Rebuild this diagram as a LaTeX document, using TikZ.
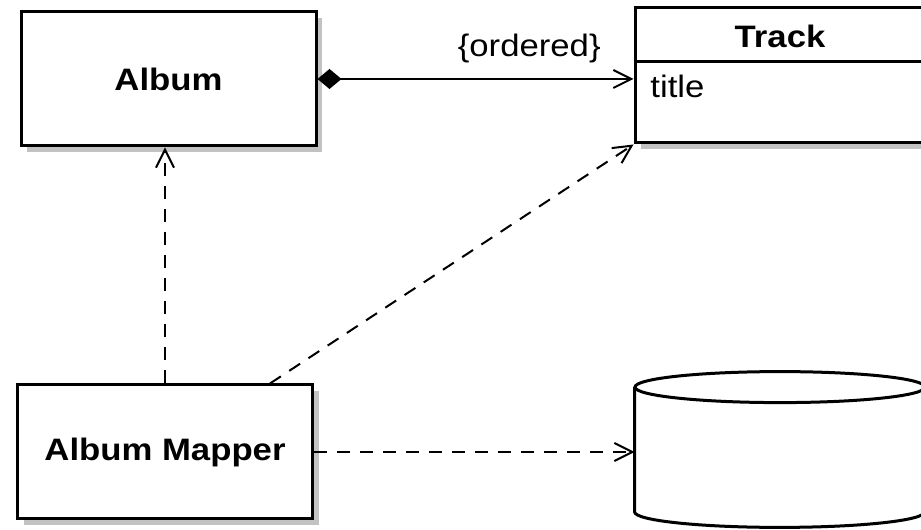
\documentclass[tikz,border=0pt]{standalone}
\usepackage{fontspec}
\setmainfont{Liberation Sans}[FakeStretch=1.12]
\usetikzlibrary{arrows.meta,shadows}

\newcommand{\umlsize}{\fontsize{15.5}{18}\selectfont}

\tikzset{
  classbox/.style={draw, line width=1.5pt, fill=white, inner sep=0pt,
    minimum width=147.5pt, minimum height=67pt, font=\umlsize\bfseries,
    drop shadow={shadow xshift=3pt, shadow yshift=-3pt, fill=black!40, opacity=0.6}},
  link/.style={line width=1pt},
  depend/.style={link, dash pattern=on 6.5pt off 5pt, -{Straight Barb[length=9pt,width=9pt,line width=1pt]}},
}

\begin{document}
\begin{tikzpicture}[x=0.5pt,y=0.5pt,font=\umlsize]
                \useasboundingbox (0,0) rectangle (921,530);

                \node[classbox] (album) at (168.5,451) {Album};
                \node[classbox] (mapper) at (165,78) {Album Mapper};
                \node[classbox, minimum width=145pt, minimum height=67.5pt] (track) at (780,454.5) {};
                \draw[line width=1.5pt] (track.west |- 0,468) -- (track.east |- 0,468);
                \node[font=\umlsize\bfseries] (trackname) at (780,494) {Track};
                \node[anchor=west, inner sep=0pt] (tracktitle) at (650,444) {title};

                % database cylinder
                \node[minimum width=145pt, minimum height=77.5pt, inner sep=0pt] (db) at (780,80.5) {};
                \filldraw[fill=white, line width=1.5pt] ([yshift=-7.75pt]db.north west)
                  -- ([yshift=7.75pt]db.south west)
                  arc[start angle=180, end angle=360, x radius=72.5pt, y radius=7.75pt]
                  -- ([yshift=-7.75pt]db.north east);
                \draw[line width=1.5pt] ([yshift=-7.75pt]db.north) ellipse[x radius=72.5pt, y radius=7.75pt];

                \draw[link, {Diamond[length=12pt,width=10pt]}-{Straight Barb[length=9pt,width=9pt,line width=1pt]}]
                (album.east) -- (album.east -| track.west)
                node[above=4pt, pos=0.67] (ordered) {\{ordered\}};
                \draw[depend] (mapper.north) -- (mapper.north |- album.south);
                \draw[depend] ([xshift=52.5pt]mapper.north) -- (track.south west);
                \draw[depend] (mapper.east) -- (mapper.east -| db.west);
            \end{tikzpicture}
\end{document}
